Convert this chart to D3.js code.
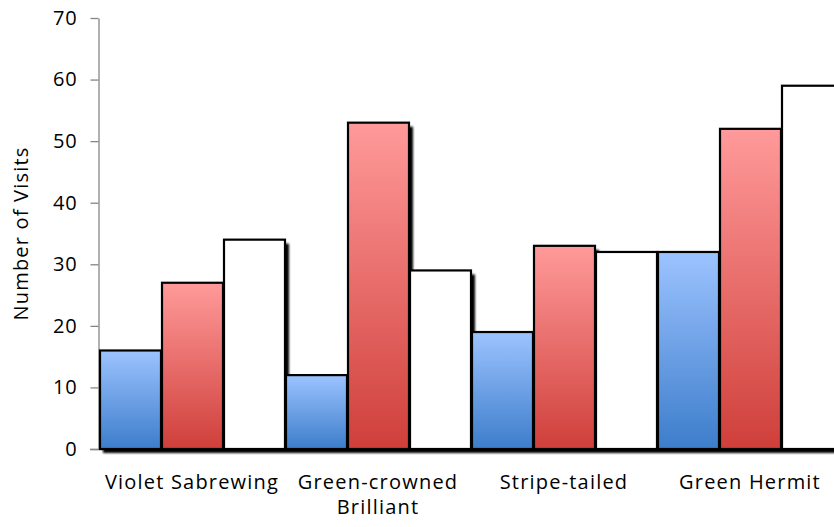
<!DOCTYPE html>
<html>
<head>
<meta charset="utf-8">
<script src="https://cdn.jsdelivr.net/npm/d3@7"></script>
<style>
  html, body { margin: 0; padding: 0; background: #fff; }
  svg { display: block; font-family: "Open Sans", "Liberation Sans", sans-serif; }
</style>
</head>
<body>
<svg id="chart" width="834" height="527"></svg>
<script>
// Hummingbird visit counts per species, three observation series
const categories = ["Violet Sabrewing", "Green-crowned Brilliant", "Stripe-tailed", "Green Hermit"];
const seriesNames = ["s1", "s2", "s3"];
const seriesBlue = [16, 12, 19, 32];
const seriesRed = [27, 53, 33, 52];
const seriesWhite = [34, 29, 32, 59];
const yTicks = [0, 10, 20, 30, 40, 50, 60, 70];
const categoryLines = [["Violet Sabrewing"], ["Green-crowned", "Brilliant"], ["Stripe-tailed"], ["Green Hermit"]];

const svg = d3.select("#chart");
const plotLeft = 99, plotTop = 18, plotBottom = 449, groupW = 186;
const fontSize = 20, spacing = 1.2;

const x = d3.scaleBand().domain(categories).range([plotLeft, plotLeft + groupW * categories.length]).padding(0);
const xs = d3.scaleBand().domain(seriesNames).range([0, x.bandwidth()]).padding(0);
const y = d3.scaleLinear().domain([0, 70]).range([plotBottom, plotTop]);

const defs = svg.append("defs");
function grad(id, c0, c1) {
  const g = defs.append("linearGradient").attr("id", id)
    .attr("x1", 0).attr("y1", 0).attr("x2", 0).attr("y2", 1);
  g.append("stop").attr("offset", "0%").attr("stop-color", c0);
  g.append("stop").attr("offset", "100%").attr("stop-color", c1);
}
grad("gBlue", "#9cc3ff", "#3d7dcb");
grad("gRed", "#ff9a9a", "#cf3f3a");
const f = defs.append("filter").attr("id", "soft").attr("x", "-20%").attr("y", "-20%").attr("width", "140%").attr("height", "140%");
f.append("feGaussianBlur").attr("stdDeviation", 0.8);

const rows = [];
categories.forEach((c, i) => {
  rows.push({ c, s: "s1", v: seriesBlue[i], fill: "url(#gBlue)" });
  rows.push({ c, s: "s2", v: seriesRed[i], fill: "url(#gRed)" });
  rows.push({ c, s: "s3", v: seriesWhite[i], fill: "#ffffff" });
});

// y axis
const yAxis = d3.axisLeft(y).tickValues(yTicks).tickSize(8).tickPadding(13).tickSizeOuter(0);
const ya = svg.append("g").attr("transform", `translate(${plotLeft - 0.5},0)`).call(yAxis);
ya.select(".domain").attr("stroke", "#868686").attr("stroke-width", 1.3);
ya.selectAll(".tick line").attr("stroke", "#868686").attr("stroke-width", 1.3);
ya.selectAll(".tick text").attr("font-size", fontSize).attr("fill", "#000")
  .attr("font-family", "Open Sans, sans-serif").attr("letter-spacing", 0.8);

// x axis baseline
svg.append("line").attr("x1", plotLeft - 9).attr("x2", 834).attr("y1", plotBottom + 0.5).attr("y2", plotBottom + 0.5)
  .attr("stroke", "#868686").attr("stroke-width", 1.3);

// drop shadows
svg.append("g").attr("filter", "url(#soft)").selectAll("rect").data(rows).join("rect")
  .attr("x", d => x(d.c) + xs(d.s) + 4)
  .attr("y", d => y(d.v) + 4)
  .attr("width", xs.bandwidth())
  .attr("height", d => plotBottom - y(d.v))
  .attr("fill", "#000");

// bars
svg.append("g").selectAll("rect").data(rows).join("rect")
  .attr("x", d => x(d.c) + xs(d.s) + 1)
  .attr("y", d => y(d.v))
  .attr("width", xs.bandwidth() - 1)
  .attr("height", d => plotBottom - y(d.v))
  .attr("fill", d => d.fill)
  .attr("stroke", "#000")
  .attr("stroke-width", 2.2);

// category labels
const lab = svg.append("g").selectAll("text").data(categories).join("text")
  .attr("x", d => x(d) + x.bandwidth() / 2)
  .attr("y", 489)
  .attr("text-anchor", "middle")
  .attr("font-size", fontSize)
  .attr("letter-spacing", spacing)
  .attr("fill", "#000");
lab.each(function(d, i) {
  d3.select(this).selectAll("tspan").data(categoryLines[i]).join("tspan")
    .attr("x", x(d) + x.bandwidth() / 2)
    .attr("dy", (t, j) => j === 0 ? 0 : 25)
    .text(t => t);
});

// y axis title
svg.append("text")
  .attr("transform", `translate(28,${(plotTop + plotBottom) / 2}) rotate(-90)`)
  .attr("text-anchor", "middle")
  .attr("font-size", fontSize)
  .attr("letter-spacing", spacing)
  .attr("fill", "#000")
  .text("Number of Visits");
</script>
</body>
</html>
